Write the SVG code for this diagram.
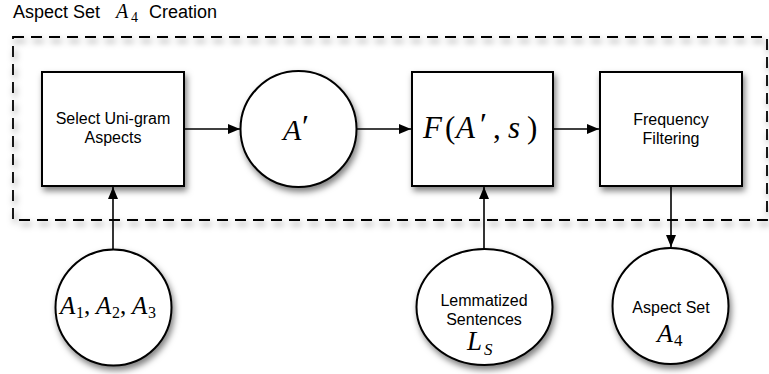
<svg xmlns="http://www.w3.org/2000/svg" width="769" height="374" viewBox="0 0 769 374">
<defs>
<filter id="sh" x="-20%" y="-20%" width="150%" height="150%">
<feDropShadow dx="2" dy="4" stdDeviation="3" flood-color="#000" flood-opacity="0.5"/>
</filter>
<marker id="ah" markerUnits="userSpaceOnUse" markerWidth="13" markerHeight="11" refX="12" refY="5" orient="auto">
<path d="M0,0 L12,5 L0,10 z" fill="#000"/>
</marker>
<style>
.node{fill:#fff;stroke:#000;stroke-width:2;filter:url(#sh)}
.lbl{font-family:"Liberation Sans",Arial,sans-serif;font-size:16px;fill:#000;text-anchor:middle}
.m{font-family:"Liberation Serif","Times New Roman",serif;font-style:italic;fill:#000}
.r{font-family:"Liberation Serif","Times New Roman",serif;font-style:normal;fill:#000}
.conn line{stroke:#000;stroke-width:1.6;marker-end:url(#ah)}
</style>
</defs>
<rect width="769" height="374" fill="#fff"/>

<g id="title">
<text x="13" y="18" font-family="Liberation Sans, Arial, sans-serif" font-size="18">Aspect Set</text>
<text x="116" y="18" class="m" font-size="20">A</text>
<text x="131" y="22" class="r" font-size="14">4</text>
<text x="149" y="18" font-family="Liberation Sans, Arial, sans-serif" font-size="18">Creation</text>
</g>

<g id="group-box">
<rect x="13" y="37" width="754" height="183" fill="none" stroke="#000" stroke-width="1.8" stroke-dasharray="11,7" filter="url(#sh)"/>
</g>

<g id="select">
<rect class="node" x="42" y="72" width="142" height="114"/>
<text class="lbl" x="113" y="124">Select Uni-gram</text>
<text class="lbl" x="113" y="143">Aspects</text>
</g>

<g id="aprime">
<circle class="node" cx="298.5" cy="129" r="58"/>
<text x="283" y="140" class="m" font-size="30">A</text>
<text x="302" y="137" class="r" font-size="32">′</text>
</g>

<g id="f">
<rect class="node" x="412" y="72" width="141" height="114"/>
<text x="423" y="138" class="m" font-size="31">F</text>
<text x="445" y="138" class="r" font-size="31">(</text>
<text x="456" y="138" class="m" font-size="31">A</text>
<text x="480" y="135" class="r" font-size="32">′</text>
<text x="493" y="138" class="r" font-size="31">,</text>
<text x="508" y="138" class="m" font-size="31">s</text>
<text x="527" y="138" class="r" font-size="31">)</text>
</g>

<g id="freq">
<rect class="node" x="600" y="72" width="142" height="114"/>
<text class="lbl" x="671" y="125">Frequency</text>
<text class="lbl" x="671" y="144">Filtering</text>
</g>

<g id="a123">
<circle class="node" cx="113.5" cy="307.5" r="58"/>
<text x="60" y="314" class="m" font-size="25">A</text>
<text x="76" y="318" class="r" font-size="16">1</text>
<text x="84" y="314" class="r" font-size="25">,</text>
<text x="96" y="314" class="m" font-size="25">A</text>
<text x="112" y="318" class="r" font-size="16">2</text>
<text x="120" y="314" class="r" font-size="25">,</text>
<text x="132" y="314" class="m" font-size="25">A</text>
<text x="148" y="318" class="r" font-size="16">3</text>
</g>

<g id="ls">
<ellipse class="node" cx="484.5" cy="307" rx="68" ry="58"/>
<text class="lbl" x="484" y="306">Lemmatized</text>
<text class="lbl" x="484" y="325">Sentences</text>
<text x="467" y="350" class="m" font-size="27">L</text>
<text x="484" y="355" class="m" font-size="17">S</text>
</g>

<g id="a4">
<circle class="node" cx="670.5" cy="306" r="58"/>
<text class="lbl" x="671" y="313">Aspect Set</text>
<text x="657" y="342" class="m" font-size="26">A</text>
<text x="674" y="346" class="r" font-size="17">4</text>
</g>

<g id="connectors" class="conn">
<line x1="184" y1="129" x2="240" y2="129"/>
<line x1="357" y1="129" x2="411" y2="129"/>
<line x1="553" y1="129" x2="599" y2="129"/>
<line x1="113" y1="250" x2="113" y2="187"/>
<line x1="484" y1="249" x2="484" y2="187"/>
<line x1="671" y1="186" x2="671" y2="247"/>
</g>
</svg>
